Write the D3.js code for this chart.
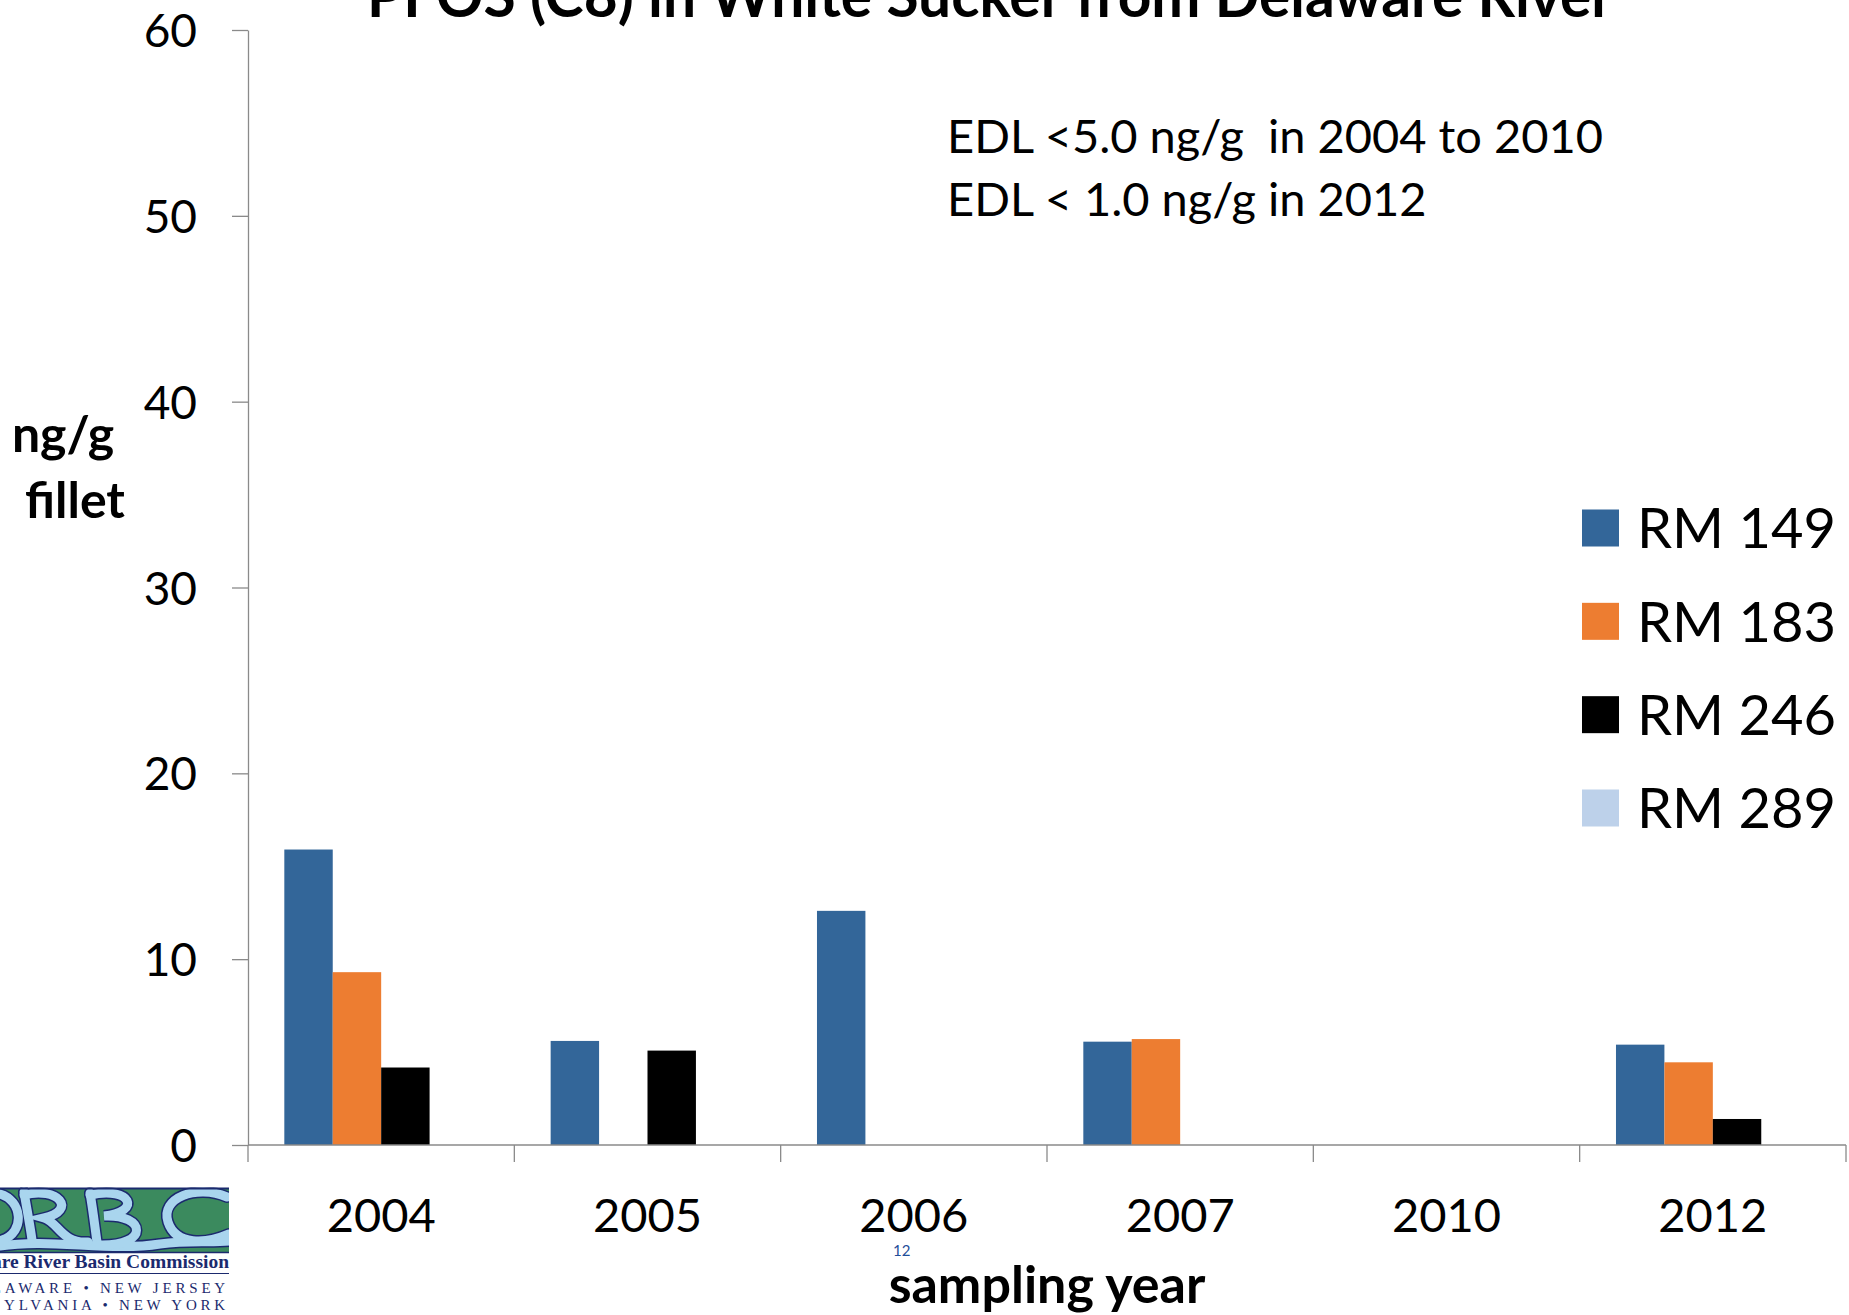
<!DOCTYPE html>
<html>
<head>
<meta charset="utf-8">
<script src="https://cdn.jsdelivr.net/npm/d3@7"></script>
<style>
  html, body { margin: 0; padding: 0; background: #fff; }
  svg { display: block; font-family: Lato, "Open Sans", sans-serif; }
</style>
</head>
<body>
<svg id="chart" width="1849" height="1315"></svg>
<script>
// Sampling years (categories) and the four river-mile stations
const years = ["2004", "2005", "2006", "2007", "2010", "2012"];
const stations = ["RM 149", "RM 183", "RM 246", "RM 289"];

// PFOS concentration, ng/g fillet (null = no detection / not sampled)
const rm149 = [15.9, 5.6, 12.6, 5.56, null, 5.4];
const rm183 = [9.3, null, null, 5.7, null, 4.45];
const rm246 = [4.17, 5.08, null, null, null, 1.4];
const rm289 = [null, null, null, null, null, null];

const yTicks = [0, 10, 20, 30, 40, 50, 60];
const stationColors = ["#336699", "#ED7D31", "#000000", "#BDD1EA"];

const seriesValues = [rm149, rm183, rm246, rm289];

const svg = d3.select("#chart");
const plot = { left: 248, right: 1846, top: 30, bottom: 1145 };
const axisGrey = "#8a8a8a";

const x0 = d3.scaleBand().domain(years).range([plot.left, plot.right]).paddingInner(0).paddingOuter(0);
const x1 = d3.scaleBand().domain(stations).range([0, x0.bandwidth()]).paddingInner(0).paddingOuter(0.75);
const y = d3.scaleLinear().domain([0, 60]).range([plot.bottom, plot.top]);
const color = d3.scaleOrdinal().domain(stations).range(stationColors);

// Title (runs off the top edge of the slide)
svg.append("text")
  .attr("x", 990).attr("y", 17)
  .attr("text-anchor", "middle")
  .attr("font-weight", 700).attr("font-size", 58.7)
  .text("PFOS (C8) in White Sucker from Delaware River");

// Bars
const rows = years.map((yr, i) => ({ year: yr, values: stations.map((s, j) => ({ station: s, value: seriesValues[j][i] })) }));
const groups = svg.append("g").selectAll("g").data(rows).join("g")
  .attr("transform", d => `translate(${x0(d.year)},0)`);
groups.selectAll("rect")
  .data(d => d.values.filter(v => v.value != null))
  .join("rect")
  .attr("x", d => x1(d.station))
  .attr("width", x1.bandwidth())
  .attr("y", d => y(d.value))
  .attr("height", d => y(0) - y(d.value))
  .attr("fill", d => color(d.station));

// Y axis
const yAxis = svg.append("g")
  .attr("transform", `translate(${plot.left},0)`)
  .call(d3.axisLeft(y).tickValues(yTicks).tickSize(16).tickSizeOuter(0).tickPadding(35));
yAxis.select(".domain").attr("stroke", axisGrey).attr("stroke-width", 1.3);
yAxis.selectAll(".tick line").attr("stroke", axisGrey).attr("stroke-width", 1.3);
yAxis.selectAll(".tick text")
  .attr("font-family", "Lato, 'Open Sans', sans-serif")
  .attr("font-size", 46).attr("fill", "#000").attr("dy", "0.36em");

// X axis: baseline, boundary ticks and centred year labels
const xAxis = svg.append("g").attr("transform", `translate(0,${plot.bottom})`);
xAxis.append("line")
  .attr("x1", plot.left).attr("x2", plot.right)
  .attr("stroke", axisGrey).attr("stroke-width", 1.3);
const bounds = years.map(d => x0(d)).concat([x0.range()[1]]);
xAxis.selectAll("line.bound").data(bounds).join("line")
  .attr("class", "bound")
  .attr("x1", d => d).attr("x2", d => d)
  .attr("y1", 0).attr("y2", 17)
  .attr("stroke", axisGrey).attr("stroke-width", 1.3);
xAxis.selectAll("text.yr").data(years).join("text")
  .attr("class", "yr")
  .attr("x", d => x0(d) + x0.bandwidth() / 2)
  .attr("y", 87)
  .attr("text-anchor", "middle")
  .attr("font-size", 47)
  .text(d => d);

// Axis titles
svg.append("text").attr("x", 63).attr("y", 452).attr("text-anchor", "middle")
  .attr("font-weight", 700).attr("font-size", 50).text("ng/g");
svg.append("text").attr("x", 75).attr("y", 518).attr("text-anchor", "middle")
  .attr("font-weight", 700).attr("font-size", 50).text("fillet");
svg.append("text").attr("x", 1047).attr("y", 1303).attr("text-anchor", "middle")
  .attr("font-weight", 700).attr("font-size", 52).text("sampling year");

// Detection-limit note
const notes = ["EDL <5.0 ng/g\u00a0\u00a0in 2004 to 2010", "EDL < 1.0 ng/g in 2012"];
svg.selectAll("text.note").data(notes).join("text")
  .attr("class", "note")
  .attr("x", 947)
  .attr("y", (d, i) => 153 + i * 63)
  .attr("font-size", 47)
  .text(d => d);

// Legend
const legendY = d3.scalePoint().domain(stations).range([528, 808]);
const legend = svg.append("g").selectAll("g").data(stations).join("g")
  .attr("transform", d => `translate(1582,${legendY(d)})`);
legend.append("rect").attr("x", 0).attr("y", -18.5).attr("width", 37).attr("height", 37)
  .attr("fill", d => color(d));
legend.append("text").attr("x", 55).attr("y", 0).attr("dy", "0.36em")
  .attr("font-size", 56).text(d => d);

// Slide number
svg.append("text").attr("x", 893).attr("y", 1256)
  .attr("font-size", 15).attr("fill", "#1F4E9A").text("12");

// DRBC logo block, bottom-left
const logo = svg.append("g");
const navy = "#1B2A6E", green = "#3B8A5E", river = "#A9D5EE";
logo.append("rect").attr("x", -2).attr("y", 1188).attr("width", 231).attr("height", 64)
  .attr("fill", green);
const riverPaths = [
  "M0,1246 C50,1238 110,1252 160,1244 C190,1240 210,1243 229,1241",
  "M0,1194 C22,1200 26,1232 2,1240",
  "M24,1192 C27,1210 30,1225 32,1240",
  "M24,1195 C58,1186 78,1210 44,1218 C58,1222 62,1244 88,1242",
  "M90,1193 C93,1210 95,1228 97,1242",
  "M90,1195 C132,1186 142,1212 104,1216 C146,1214 150,1246 100,1245",
  "M227,1197 C196,1184 160,1198 168,1222 C176,1246 206,1244 229,1234"
];
const art = logo.append("g");
art.selectAll("path.edge").data(riverPaths).join("path").attr("class", "edge")
  .attr("d", d => d).attr("fill", "none").attr("stroke", navy).attr("stroke-width", 12)
  .attr("stroke-linecap", "round");
art.selectAll("path.river").data(riverPaths).join("path").attr("class", "river")
  .attr("d", d => d).attr("fill", "none").attr("stroke", river).attr("stroke-width", 9)
  .attr("stroke-linecap", "round");
// keep the artwork inside its box
logo.append("rect").attr("x", 229).attr("y", 1180).attr("width", 20).attr("height", 80).attr("fill", "#fff");
logo.append("rect").attr("x", 0).attr("y", 1176).attr("width", 232).attr("height", 11.5).attr("fill", "#fff");
logo.append("rect").attr("x", 0).attr("y", 1253).attr("width", 232).attr("height", 5).attr("fill", "#fff");
logo.append("line").attr("x1", 0).attr("x2", 229).attr("y1", 1188.5).attr("y2", 1188.5)
  .attr("stroke", navy).attr("stroke-width", 2);
logo.append("line").attr("x1", 0).attr("x2", 229).attr("y1", 1252.5).attr("y2", 1252.5)
  .attr("stroke", navy).attr("stroke-width", 1.5);
logo.append("text").attr("x", 229).attr("y", 1268).attr("text-anchor", "end")
  .attr("font-family", "'Liberation Serif', serif").attr("font-weight", 700).attr("font-size", 19.5)
  .attr("fill", navy).text("Delaware River Basin Commission");
logo.append("line").attr("x1", 0).attr("x2", 229).attr("y1", 1273.5).attr("y2", 1273.5)
  .attr("stroke", navy).attr("stroke-width", 1.2);
logo.append("text").attr("x", 229).attr("y", 1293).attr("text-anchor", "end")
  .attr("font-family", "'Liberation Serif', serif").attr("font-size", 15).attr("letter-spacing", 3.8)
  .attr("fill", navy).text("DELAWARE \u2022 NEW JERSEY");
logo.append("text").attr("x", 229).attr("y", 1310).attr("text-anchor", "end")
  .attr("font-family", "'Liberation Serif', serif").attr("font-size", 15).attr("letter-spacing", 3.8)
  .attr("fill", navy).text("PENNSYLVANIA \u2022 NEW YORK");
</script>
</body>
</html>
